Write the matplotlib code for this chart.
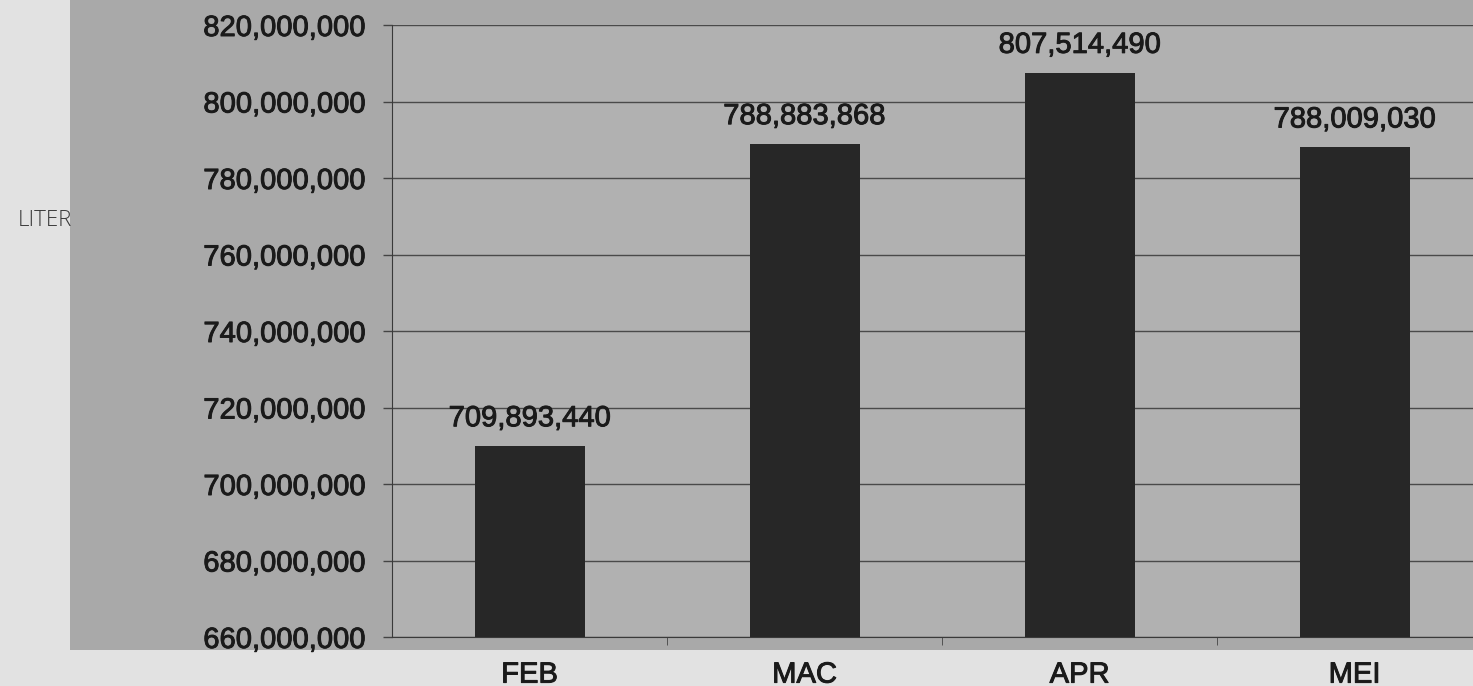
import matplotlib
matplotlib.use("Agg")
import matplotlib.pyplot as plt
import matplotlib.patheffects as pe
from matplotlib.patches import Rectangle
from matplotlib.ticker import FuncFormatter, MultipleLocator

months = ["FEB", "MAC", "APR", "MEI"]
liters = [709893440, 788883868, 807514490, 788009030]
y_min, y_max, y_step = 660000000, 820000000, 20000000
y_label = "LITER"

W, H = 1473, 686
fig = plt.figure(figsize=(W / 100, H / 100), dpi=100, facecolor="#e2e2e2")
plt.rcParams["font.family"] = ["Liberation Sans", "DejaVu Sans"]

# grey chart panel behind the plot
fig.patches.append(Rectangle((70 / W, (H - 650) / H), 1 - 70 / W, 650 / H,
                             transform=fig.transFigure, facecolor="#a9a9a9",
                             edgecolor="none", zorder=-1))

ax = fig.add_axes([392 / W, (H - 637) / H, 1100 / W, (637 - 25) / H])
ax.set_zorder(1)
ax.set_facecolor("#b1b1b1")
x = range(len(months))
ax.bar(x, liters, width=0.4, color="#272727", zorder=3)

heavy = [pe.withStroke(linewidth=0.7, foreground="#1a1a1a")]

ax.set_xlim(-0.5, len(months) - 0.5)
ax.set_ylim(y_min, y_max)
ax.yaxis.set_major_locator(MultipleLocator(y_step))
ax.yaxis.set_major_formatter(FuncFormatter(lambda v, _: f"{v:,.0f}"))
ax.grid(axis="y", color="#4a4a4a", linewidth=1.0, zorder=1)
ax.set_xticks(list(x))
ax.set_xticklabels(months)
ax.tick_params(axis="x", length=0, pad=17, labelsize=21, labelcolor="#1a1a1a")
ax.tick_params(axis="y", length=6.5, width=1, color="#444444", pad=13,
               labelsize=21, labelcolor="#1a1a1a")
ax.set_xticks([i + 0.5 for i in range(len(months) - 1)], minor=True)
ax.tick_params(axis="x", which="minor", length=6, color="#444444", direction="out")
for lbl in ax.get_xticklabels() + ax.get_yticklabels():
    lbl.set_path_effects(heavy)

for s in ["top", "right"]:
    ax.spines[s].set_visible(False)
ax.spines["left"].set_color("#3a3a3a")
ax.spines["bottom"].set_color("#3a3a3a")

for i, v in zip(x, liters):
    ax.annotate(f"{v:,}", (i, v), xytext=(0, 10), textcoords="offset points",
                ha="center", va="bottom", fontsize=21, color="#1a1a1a",
                path_effects=heavy)

fig.text(45 / W, 1 - 221 / H, y_label, ha="center", va="center",
         fontsize=16, fontweight="light", color="#3a3a3a",
         family=["Open Sans", "DejaVu Sans"])

fig.savefig("out.png", dpi=100, facecolor=fig.get_facecolor())
